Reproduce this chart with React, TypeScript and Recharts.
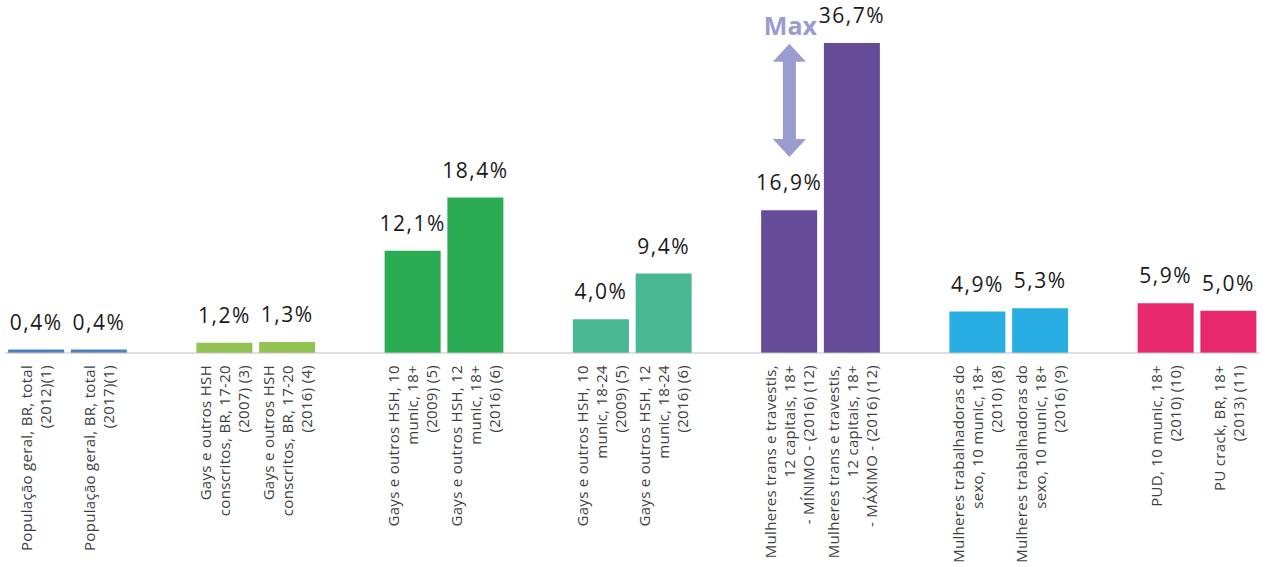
import React from "react";
import { BarChart, Bar, XAxis, YAxis, Cell, LabelList, ReferenceArea } from "recharts";

// one entry per slot; empty strings are the spacer slots between groups
const categories = [
  "População geral, BR, total\n(2012)(1)",
  "População geral, BR, total\n(2017)(1)",
  "",
  "Gays e outros HSH\nconscritos, BR, 17-20\n(2007) (3)",
  "Gays e outros HSH\nconscritos, BR, 17-20\n(2016) (4)",
  "",
  "Gays e outros HSH, 10\nmunic, 18+\n(2009) (5)",
  "Gays e outros HSH, 12\nmunic, 18+\n(2016) (6)",
  "",
  "Gays e outros HSH, 10\nmunic, 18-24\n(2009) (5)",
  "Gays e outros HSH, 12\nmunic, 18-24\n(2016) (6)",
  "",
  "Mulheres trans e travestis,\n12 capitais, 18+\n- MÍNIMO - (2016) (12)",
  "Mulheres trans e travestis,\n12 capitais, 18+\n- MÁXIMO - (2016) (12)",
  "",
  "Mulheres trabalhadoras do\nsexo, 10 munic, 18+\n(2010) (8)",
  "Mulheres trabalhadoras do\nsexo, 10 munic, 18+\n(2016) (9)",
  "",
  "PUD, 10 munic, 18+\n(2010) (10)",
  "PU crack, BR, 18+\n(2013) (11)",
];

const values: (number | null)[] = [
  0.4, 0.4, null,
  1.2, 1.3, null,
  12.1, 18.4, null,
  4.0, 9.4, null,
  16.9, 36.7, null,
  4.9, 5.3, null,
  5.9, 5.0,
];

const slotColors = [
  "#4f81bd", "#4f81bd", "",
  "#92c353", "#92c353", "",
  "#2bac53", "#2bac53", "",
  "#49b792", "#49b792", "",
  "#664c98", "#664c98", "",
  "#29aee4", "#29aee4", "",
  "#e8286c", "#e8286c",
];

// "Max" arrow annotation: spans these values above the MÍNIMO bar
const maxArrowSlot = 12;
const maxArrowFrom = 23.2;
const maxArrowTo = 36.6;

const FONT = "'Open Sans', 'Noto Sans', sans-serif";
const ARROW_COLOR = "#9a9ccf";

const data = categories.map((label, i) => ({
  id: `c${i}`,
  label,
  value: values[i],
  color: slotColors[i],
}));

function CategoryTick(props: any) {
  const { x, y, index } = props;
  const label = categories[index] || "";
  if (!label) return null;
  const lines = label.split("\n");
  const fs = 15;
  const lh = 19;
  return (
    <g transform={`translate(${x},${y + 4}) rotate(-90)`}>
      <text textAnchor="end" fontFamily={FONT} fontSize={fs} letterSpacing={0.3} fill="#404040">
        {lines.map((l, i) => (
          <tspan key={i} x={0} y={(i - (lines.length - 1) / 2) * lh + fs * 0.36}>
            {l}
          </tspan>
        ))}
      </text>
    </g>
  );
}

function ValueLabel(props: any) {
  const { x, y, width, value } = props;
  if (value == null) return null;
  return (
    <text
      x={x + width / 2}
      y={y - 20}
      textAnchor="middle"
      fontFamily={FONT}
      fontSize={21}
      letterSpacing={1.5}
      fill="#1a1a1a"
    >
      {`${value.toFixed(1).replace(".", ",")}%`}
    </text>
  );
}

function MaxArrow(props: any) {
  const { x, y, width, height } = props;
  const cx = x + width / 2;
  const top = y;
  const bot = y + height;
  const hh = 18;
  const hw = 16.5;
  const sw = 6.5;
  const pts = [
    [cx, top],
    [cx + hw, top + hh],
    [cx + sw, top + hh],
    [cx + sw, bot - hh],
    [cx + hw, bot - hh],
    [cx, bot],
    [cx - hw, bot - hh],
    [cx - sw, bot - hh],
    [cx - sw, top + hh],
    [cx - hw, top + hh],
  ]
    .map((p) => p.join(","))
    .join(" ");
  return (
    <g>
      <polygon points={pts} fill={ARROW_COLOR} />
      <text
        x={cx + 1}
        y={top - 9}
        textAnchor="middle"
        fontFamily={FONT}
        fontSize={25}
        fontWeight="bold"
        fill={ARROW_COLOR}
      >
        Max
      </text>
    </g>
  );
}

export default function App() {
  return (
    <div style={{ position: "absolute", left: 0, top: 0, width: 1274, height: 567, background: "#fff" }}>
      <BarChart
        width={1274}
        height={567}
        data={data}
        margin={{ top: 15, right: 14, bottom: 0, left: 5 }}
        barCategoryGap="5%"
      >
        <XAxis
          dataKey="id"
          height={214}
          interval={0}
          tickLine={false}
          axisLine={{ stroke: "#c0c0c0", strokeWidth: 1 }}
          tick={<CategoryTick />}
        />
        <YAxis hide domain={[0, 40]} />
        <Bar dataKey="value" isAnimationActive={false}>
          {data.map((d) => (
            <Cell key={d.id} fill={d.color || "transparent"} />
          ))}
          <LabelList dataKey="value" content={<ValueLabel />} />
        </Bar>
        <ReferenceArea
          x1={`c${maxArrowSlot}`}
          x2={`c${maxArrowSlot}`}
          y1={maxArrowFrom}
          y2={maxArrowTo}
          shape={<MaxArrow />}
        />
      </BarChart>
    </div>
  );
}
